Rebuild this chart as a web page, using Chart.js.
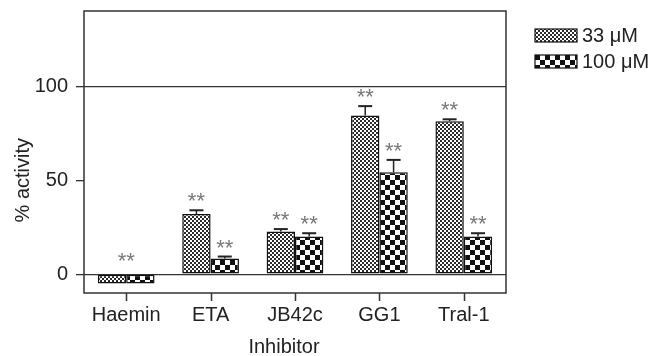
<!DOCTYPE html>
<html>
<head>
<meta charset="utf-8">
<script src="https://cdn.jsdelivr.net/npm/chart.js@4.4.1/dist/chart.umd.min.js"></script>
<style>
  html, body { margin: 0; padding: 0; background: #fff; }
  #wrap { width: 654px; height: 356px; }
</style>
</head>
<body>
<div id="wrap"><canvas id="chart"></canvas></div>
<script>
// data
const categories = ['Haemin', 'ETA', 'JB42c', 'GG1', 'Tral-1'];
const seriesLabels = ['33 \u03BCM', '100 \u03BCM'];
const activity33 = [-5, 32, 22.7, 84.4, 81.4];
const activity100 = [-5, 8.3, 20, 54.2, 20];
const error33 = [0, 2, 1.3, 5, 1];
const error100 = [0, 1.1, 1.8, 6.6, 1.8];
const stars33 = ['', '**', '**', '**', '**'];
const stars100 = ['', '**', '**', '**', '**'];
const starsGroup = ['**', '', '', '', ''];
const yTicks = [0, 50, 100];

const FONT = '"Liberation Sans", Arial, sans-serif';

function makePattern(size, dark) {
    const c = document.createElement('canvas');
    c.width = size * 2;
    c.height = size * 2;
    const g = c.getContext('2d');
    g.fillStyle = '#fff';
    g.fillRect(0, 0, c.width, c.height);
    g.fillStyle = dark;
    g.fillRect(0, 0, size, size);
    g.fillRect(size, size, size, size);
    return g.createPattern(c, 'repeat');
}

const fine = makePattern(2, '#2a2a2a');
const coarse = makePattern(5, '#111');

const errorBars = {
    id: 'errorBars',
    afterDatasetsDraw(chart) {
        const ctx = chart.ctx;
        const y = chart.scales.y;
        const errs = [error33, error100];
        const stars = [stars33, stars100];
        ctx.save();
        chart.data.datasets.forEach((ds, di) => {
            const meta = chart.getDatasetMeta(di);
            meta.data.forEach((bar, i) => {
                const v = ds.data[i];
                const e = errs[di][i];
                let top = y.getPixelForValue(Math.max(v, 0));
                if (e > 0) {
                    const ty = y.getPixelForValue(v + e);
                    ctx.strokeStyle = '#222';
                    ctx.lineWidth = 1.5;
                    ctx.beginPath();
                    ctx.moveTo(bar.x, bar.y);
                    ctx.lineTo(bar.x, ty);
                    ctx.stroke();
                    ctx.lineWidth = 2;
                    ctx.beginPath();
                    ctx.moveTo(bar.x - 7, ty);
                    ctx.lineTo(bar.x + 7, ty);
                    ctx.stroke();
                    top = ty;
                }
                if (stars[di][i]) {
                    ctx.fillStyle = '#777';
                    ctx.font = '22px ' + FONT;
                    ctx.textAlign = 'center';
                    ctx.textBaseline = 'alphabetic';
                    ctx.fillText(stars[di][i], bar.x, top - 2);
                }
            });
        });
        // group level marks
        const x = chart.scales.x;
        starsGroup.forEach((s, i) => {
            if (!s) return;
            ctx.fillStyle = '#777';
            ctx.font = '22px ' + FONT;
            ctx.textAlign = 'center';
            ctx.fillText(s, x.getPixelForValue(i), y.getPixelForValue(0) - 6);
        });
        ctx.restore();
    },
    afterDraw(chart) {
        const ctx = chart.ctx;
        const a = chart.chartArea;
        const x = chart.scales.x;
        const y = chart.scales.y;
        ctx.save();
        // frame
        ctx.strokeStyle = '#333';
        ctx.lineWidth = 1.5;
        ctx.strokeRect(a.left, a.top, a.right - a.left, a.bottom - a.top);
        // category tick marks
        categories.forEach((c, i) => {
            const px = Math.round(x.getPixelForValue(i)) + 0.5;
            ctx.beginPath();
            ctx.moveTo(px, a.bottom);
            ctx.lineTo(px, a.bottom + 8);
            ctx.stroke();
        });

        // axis titles
        ctx.fillStyle = '#222';
        ctx.font = '20px ' + FONT;
        ctx.textAlign = 'center';
        ctx.textBaseline = 'alphabetic';
        ctx.fillText('Inhibitor', 284, 353);
        ctx.save();
        ctx.translate(29, (y.getPixelForValue(0) + y.getPixelForValue(100)) / 2);
        ctx.rotate(-Math.PI / 2);
        ctx.fillText('% activity', 0, 0);
        ctx.restore();

        // legend
        const fills = [fine, coarse];
        seriesLabels.forEach((lab, i) => {
            const by = 29 + i * 26;
            ctx.fillStyle = fills[i];
            ctx.fillRect(535, by, 42, 13);
            ctx.strokeStyle = '#111';
            ctx.lineWidth = 1.2;
            ctx.strokeRect(535, by, 42, 13);
            ctx.fillStyle = '#222';
            ctx.textAlign = 'left';
            ctx.textBaseline = 'middle';
            ctx.fillText(lab, 582, by + 7);
        });
        ctx.restore();
    }
};

new Chart(document.getElementById('chart'), {
    type: 'bar',
    data: {
        labels: categories,
        datasets: [{
            label: seriesLabels[0],
            data: activity33,
            backgroundColor: fine,
            borderColor: '#111',
            borderWidth: 1.5,
            borderSkipped: false,
        }, {
            label: seriesLabels[1],
            data: activity100,
            backgroundColor: coarse,
            borderColor: '#111',
            borderWidth: 1.5,
            borderSkipped: false,
        }]
    },
    options: {
        responsive: true,
        maintainAspectRatio: false,
        animation: false,
        layout: { padding: { top: 11, right: 148, left: 0, bottom: 0 } },
        datasets: { bar: { categoryPercentage: 0.672, barPercentage: 1 } },
        plugins: {
            legend: { display: false },
            tooltip: { enabled: false },
        },
        scales: {
            x: {
                offset: true,
                grid: { display: false, tickLength: 8 },
                border: { display: false },
                ticks: { font: { family: FONT, size: 20 }, color: '#222', padding: 2, maxRotation: 0 },
                afterFit(scale) {
                    scale.height = 63;
                    scale.paddingLeft = 0;
                    scale.paddingRight = 0;
                },
            },
            y: {
                min: -10,
                max: 140,
                afterBuildTicks(scale) { scale.ticks = yTicks.map(v => ({ value: v })); },
                afterFit(scale) {
                    scale.width = 84;
                    scale.paddingTop = 0;
                    scale.paddingBottom = 0;
                },
                grid: {
                    color: c => (c.tick && c.tick.value === 50) ? 'rgba(0,0,0,0)' : '#333',
                    tickColor: '#333',
                    tickLength: 8,
                    lineWidth: 1.3,
                },
                border: { display: false },
                ticks: { font: { family: FONT, size: 20 }, color: '#222', padding: 8 },
            }
        }
    },
    plugins: [errorBars]
});
</script>
</body>
</html>
